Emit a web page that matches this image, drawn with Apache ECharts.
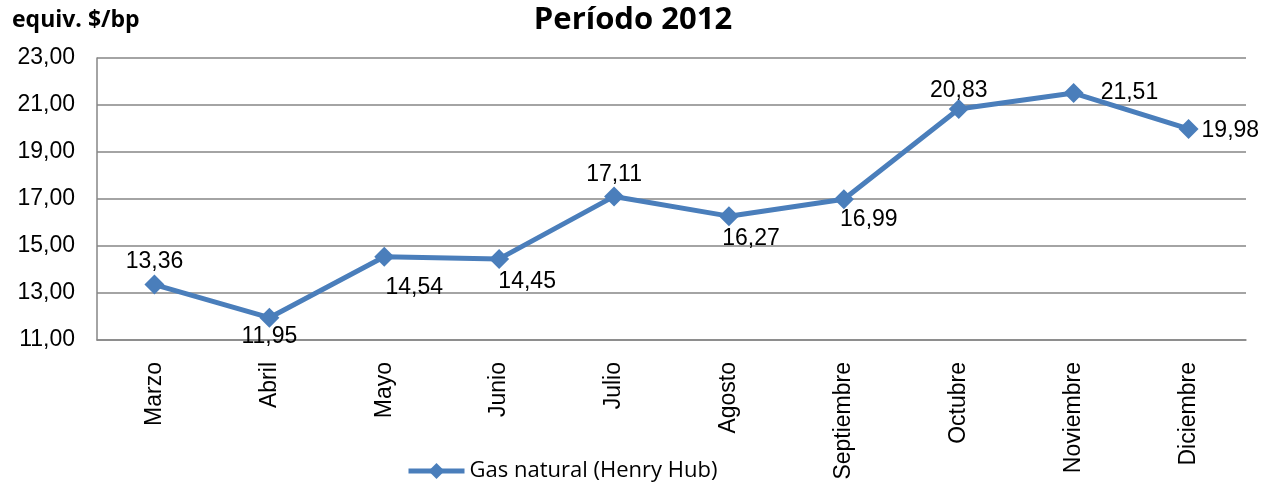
<!DOCTYPE html>
<html>
<head>
<meta charset="utf-8">
<script src="https://cdn.jsdelivr.net/npm/echarts@6/dist/echarts.min.js"></script>
<style>html,body{margin:0;padding:0;background:#fff}#c{width:1266px;height:489px}</style>
</head>
<body>
<div id="c"></div>
<script>
const categories = ['Marzo','Abril','Mayo','Junio','Julio','Agosto','Septiembre','Octubre','Noviembre','Diciembre'];
const gasNatural = [13.36, 11.95, 14.54, 14.45, 17.11, 16.27, 16.99, 20.83, 21.51, 19.98];
const seriesName = 'Gas natural (Henry Hub)';
const chartTitle = 'Período 2012';
const unitLabel = 'equiv. $/bp';

// label placement (styling only)
const labelPlacement = [
  {position:'top', offset:[0,4]},
  {position:'bottom', offset:[0,-8]},
  {position:'bottom', offset:[30,4]},
  {position:'bottom', offset:[28,-4]},
  {position:'top', offset:[0,5]},
  {position:'bottom', offset:[22,-4]},
  {position:'bottom', offset:[25,-6]},
  {position:'top', offset:[0,8]},
  {position:'right', offset:[12,0]},
  {position:'right', offset:[-2,2]}
];

const fmt = v => v.toFixed(2).replace('.', ',');
const chart = echarts.init(document.getElementById('c'));
chart.setOption({
  animation:false,
  title:[
    {text:chartTitle, left:'center', top:0, textStyle:{fontFamily:'Open Sans', fontWeight:'bold', fontSize:31, color:'#000'}},
    {text:unitLabel, left:7, top:4, textStyle:{fontFamily:'Open Sans', fontWeight:'bold', fontSize:23, color:'#000'}}
  ],
  legend:{bottom:2, left:401, itemWidth:56, itemHeight:20, itemGap:4,
    lineStyle:{width:5}, 
    textStyle:{fontFamily:'Open Sans', fontSize:22, color:'#000'}, data:[seriesName]},
  grid:{left:97, right:20, top:58, bottom:149},
  xAxis:{type:'category', data:categories, boundaryGap:true,
    axisLine:{lineStyle:{color:'#868686', width:1.5}},
    axisTick:{show:false},
    axisLabel:{rotate:90, margin:22, fontFamily:'Liberation Sans', fontSize:23, color:'#000'}},
  yAxis:{type:'value', min:11, max:23, interval:2,
    axisLine:{show:true, lineStyle:{color:'#868686', width:1.5}},
    axisTick:{show:false},
    splitLine:{lineStyle:{color:'#868686', width:1.5}},
    axisLabel:{margin:22, fontFamily:'Liberation Sans', fontSize:23, color:'#000', formatter:v=>fmt(v)}},
  series:[{
    name:seriesName, type:'line', symbol:'diamond', symbolSize:20,
    lineStyle:{color:'#4A7EBB', width:5}, itemStyle:{color:'#4A7EBB'},
    data:gasNatural.map((v,i)=>({value:v, label:{show:true, position:labelPlacement[i].position, offset:labelPlacement[i].offset}})),
    label:{show:true, fontFamily:'Liberation Sans', fontSize:23, color:'#000', formatter:p=>fmt(p.value)}
  }]
});
</script>
</body>
</html>
